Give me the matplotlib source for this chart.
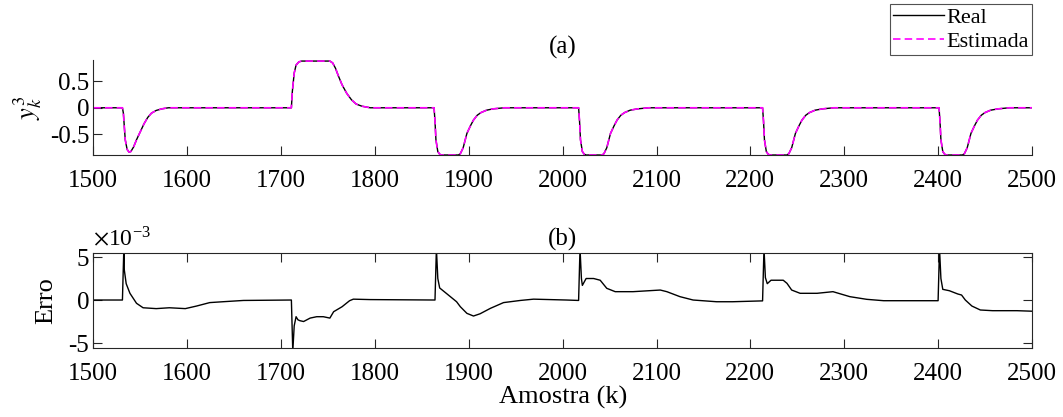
import matplotlib
matplotlib.use('Agg')
import matplotlib.pyplot as plt

# -----------------------------
# Data
# -----------------------------

# (a) output y_k^3 : sample index and value (real and estimated overlap)
k_top = [1500, 1531, 1532, 1533, 1534, 1536, 1538, 1540, 1543, 1546, 1550, 1554, 1558, 1562, 1567, 1573, 1580,
         1711, 1712, 1714, 1716, 1719, 1722, 1752, 1755, 1758, 1761, 1765, 1770, 1775, 1780, 1786, 1795,
         1863, 1864, 1865, 1867, 1869, 1871, 1889, 1891, 1894, 1898, 1902, 1905, 1909, 1913, 1919, 1926, 1938,
         2017, 2018, 2019, 2021, 2023, 2025, 2042, 2044, 2047, 2051, 2055, 2058, 2062, 2066, 2072, 2080, 2092,
         2213, 2214, 2215, 2217, 2219, 2221, 2239, 2241, 2244, 2248, 2252, 2255, 2259, 2263, 2269, 2277, 2289,
         2401, 2402, 2403, 2405, 2407, 2409, 2426, 2428, 2431, 2435, 2439, 2442, 2446, 2450, 2456, 2464, 2476,
         2500]
y_real = [0, 0, -0.1, -0.35, -0.6, -0.78, -0.83, -0.82, -0.73, -0.6, -0.45, -0.3, -0.18, -0.1, -0.05, -0.02, 0,
          0, 0.3, 0.65, 0.8, 0.86, 0.875, 0.875, 0.84, 0.74, 0.6, 0.43, 0.27, 0.15, 0.07, 0.03, 0,
          0, -0.25, -0.6, -0.82, -0.87, -0.885, -0.885, -0.86, -0.75, -0.48, -0.33, -0.23, -0.14, -0.09, -0.045, -0.02, 0,
          0, -0.25, -0.6, -0.82, -0.87, -0.885, -0.885, -0.86, -0.75, -0.48, -0.33, -0.23, -0.14, -0.09, -0.045, -0.02, 0,
          0, -0.25, -0.6, -0.82, -0.87, -0.885, -0.885, -0.86, -0.75, -0.48, -0.33, -0.23, -0.14, -0.09, -0.045, -0.02, 0,
          0, -0.25, -0.6, -0.82, -0.87, -0.885, -0.885, -0.86, -0.75, -0.48, -0.33, -0.23, -0.14, -0.09, -0.045, -0.02, 0,
          0]
y_est = list(y_real)

# (b) estimation error, in units of 1e-3
k_err = [1500, 1531, 1532.5, 1533, 1535, 1539, 1546, 1553, 1567, 1581, 1598, 1610, 1624, 1638, 1660, 1711,
         1712.5, 1714, 1716, 1718, 1720, 1724, 1731, 1738, 1745, 1752, 1756, 1765, 1773, 1777, 1795, 1864,
         1865.5, 1867, 1869, 1876, 1887, 1891, 1898, 1905, 1912, 1923, 1937, 1955, 1969, 2004, 2017,
         2018.5, 2020, 2021, 2025, 2033, 2040, 2047, 2056, 2075, 2104, 2111, 2125, 2139, 2164, 2181, 2213,
         2214.5, 2216, 2218, 2222, 2235, 2239, 2244, 2253, 2271, 2288, 2306, 2324, 2342, 2400,
         2401.5, 2403, 2405, 2412, 2421, 2425, 2429, 2436, 2445, 2458, 2484, 2500]
err = [0, 0, 6.0, 3.5, 1.9, 0.78, -0.38, -0.9, -1.0, -0.9, -1.0, -0.7, -0.3, -0.2, -0.05, 0,
       -6.0, -3.0, -1.94, -2.3, -2.4, -2.5, -2.1, -1.94, -1.94, -2.1, -1.36, -0.78, -0.08, 0.1, 0.05, 0,
       6.0, 2.5, 1.4, 0.78, -0.2, -0.78, -1.55, -1.86, -1.6, -0.97, -0.3, -0.05, 0.1, 0.0, -0.05,
       6.0, 2.5, 1.7, 2.5, 2.5, 2.3, 1.36, 0.97, 0.97, 1.16, 0.97, 0.39, 0.0, -0.2, -0.2, -0.1,
       6.0, 2.6, 1.9, 2.3, 2.3, 1.94, 1.16, 0.78, 0.78, 0.97, 0.39, 0.08, -0.08, -0.08,
       6.0, 2.5, 1.24, 1.08, 0.7, 0.58, 0.0, -0.7, -1.16, -1.24, -1.24, -1.3]

x_ticks = [1500, 1600, 1700, 1800, 1900, 2000, 2100, 2200, 2300, 2400, 2500]

# -----------------------------
# Style
# -----------------------------
plt.rcParams['font.family'] = 'serif'
plt.rcParams['font.serif'] = ['Liberation Serif', 'DejaVu Serif']
plt.rcParams['mathtext.fontset'] = 'stix'
plt.rcParams['axes.unicode_minus'] = False
axis_gray = '#262626'

fig = plt.figure(figsize=(10.63, 4.17), dpi=100)
ax1 = fig.add_axes([0.0878, 0.628, 0.883, 0.228])
ax2 = fig.add_axes([0.0878, 0.165, 0.883, 0.229])

# (a)
ax1.plot(k_top, y_real, color='black', lw=1.0, label='Real')
ax1.plot(k_top, y_est, color=(1, 0, 1), lw=1.2, ls=(0, (4.5, 2.5)), label='Estimada')
ax1.set_xlim(1500, 2500)
ax1.set_ylim(-0.887, 0.894)
ax1.set_xticks(x_ticks)
ax1.set_yticks([-0.5, 0, 0.5])
ax1.set_yticklabels(['-0.5', '0', '0.5'])
ax1.spines['top'].set_visible(False)
ax1.spines['right'].set_visible(False)
ax1.set_ylabel(r'$y_k^3$', fontsize=19, labelpad=4)
ax1.set_title('(a)', fontsize=18, pad=5)
leg = ax1.legend(loc='upper right', bbox_to_anchor=(0.971, 0.99), bbox_transform=fig.transFigure,
                 fontsize=16, frameon=True, fancybox=False, edgecolor=axis_gray,
                 handlelength=2.3, handletextpad=0.1, borderpad=0.15, labelspacing=0.15, borderaxespad=0)
leg.get_frame().set_linewidth(0.8)

# (b)
ax2.plot(k_err, err, color='black', lw=1.0)
ax2.set_xlim(1500, 2500)
ax2.set_ylim(-5.6, 5.5)
ax2.set_xticks(x_ticks)
ax2.set_yticks([-5, 0, 5])
ax2.set_yticklabels(['-5', '0', '5'])
ax2.set_ylabel('Erro', fontsize=19, labelpad=8)
ax2.set_xlabel('Amostra (k)', fontsize=19, labelpad=0)
ax2.set_title('(b)', fontsize=18, pad=5)
ax2.text(0.0, 1.02, r'$\times$10$^{\mathregular{-3}}$', transform=ax2.transAxes, fontsize=17, va='bottom', ha='left')

for ax in (ax1, ax2):
    for s in ax.spines.values():
        s.set_color(axis_gray)
        s.set_linewidth(0.8)
    ax.tick_params(direction='in', length=6.5, width=0.8, color=axis_gray, labelcolor='black', labelsize=18, pad=3)
    ax.tick_params(axis='x', pad=11)
ax2.tick_params(top=True, right=True)

fig.savefig('out.png', dpi=100)
